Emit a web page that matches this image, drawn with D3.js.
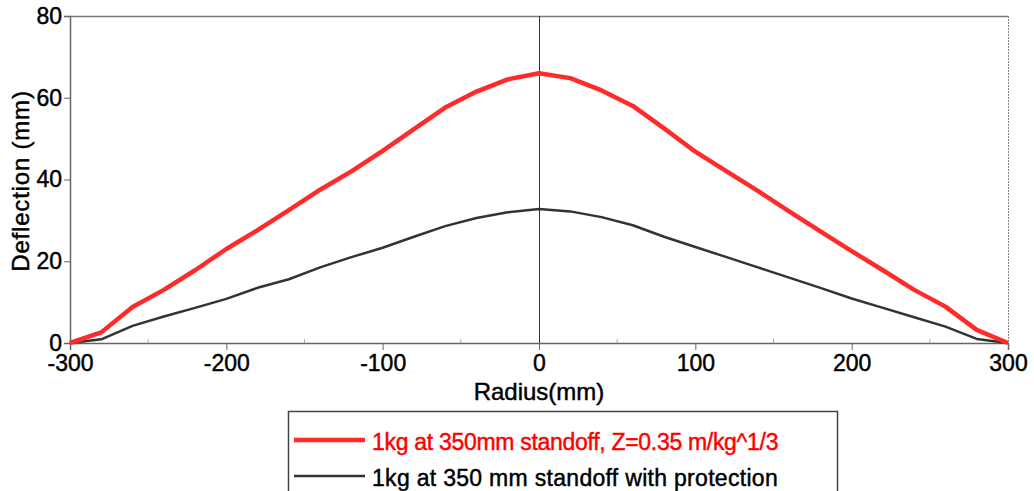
<!DOCTYPE html>
<html>
<head>
<meta charset="utf-8">
<script src="https://cdn.jsdelivr.net/npm/d3@7"></script>
<style>
  body { margin: 0; background: #fff; }
  text { font-family: "Liberation Sans", Arial, sans-serif; }
</style>
</head>
<body>
<svg id="chart" width="1034" height="491"></svg>
<script>
// radius positions (mm)
const radius = [-300, -280, -260, -240, -220, -200, -180, -160, -140, -120, -100, -80, -60, -40, -20, 0,
  20, 40, 60, 80, 100, 120, 140, 160, 180, 200, 220, 240, 260, 280, 300];

// deflection without protection (mm)
const noProtection = [0, 2.6, 8.8, 13, 17.8, 23, 27.6, 32.5, 37.5, 42, 47, 52.3, 57.6, 61.5, 64.5, 66,
  64.8, 61.8, 58, 52.5, 46.8, 42, 37.2, 32.2, 27.3, 22.5, 17.8, 13, 8.9, 3.2, 0];

// deflection with protection (mm)
const withProtection = [0, 0.9, 4.2, 6.5, 8.6, 10.8, 13.5, 15.6, 18.5, 21, 23.3, 26, 28.6, 30.6, 32, 32.8,
  32.2, 30.8, 28.8, 26, 23.5, 21, 18.5, 16, 13.5, 10.9, 8.6, 6.3, 4, 1, 0];

const xTicks = [-300, -200, -100, 0, 100, 200, 300];
const xMinorTicks = [-250, -150, -50, 50, 150, 250];
const yTicks = [0, 20, 40, 60, 80];

const seriesNames = ["1kg at 350mm standoff, Z=0.35 m/kg^1/3", "1kg at 350 mm standoff with protection"];
const seriesColors = ["#ff2b2b", "#333333"];

const svg = d3.select("#chart");
const mLeft = 70, mRight = 1008, mTop = 16, mBottom = 343;

const x = d3.scaleLinear().domain([-300, 300]).range([mLeft, mRight]);
const y = d3.scaleLinear().domain([0, 80]).range([mBottom, mTop]);

// frame: top solid, right dashed
svg.append("line")
  .attr("x1", mLeft).attr("x2", mRight).attr("y1", mTop + 0.5).attr("y2", mTop + 0.5)
  .attr("stroke", "#777").attr("stroke-width", 1.5);
svg.append("line")
  .attr("x1", mRight + 0.5).attr("x2", mRight + 0.5).attr("y1", mTop).attr("y2", mBottom)
  .attr("stroke", "#888").attr("stroke-width", 1).attr("stroke-dasharray", "2,1");

// zero line at radius 0
svg.append("line")
  .attr("x1", x(0) + 0.5).attr("x2", x(0) + 0.5).attr("y1", mTop).attr("y2", mBottom)
  .attr("stroke", "#333").attr("stroke-width", 1);

// shared text look: a little heavier than plain regular
const heavy = sel => sel.attr("stroke", "currentColor").attr("stroke-width", 0.45);

// x axis
const xAxis = svg.append("g")
  .attr("transform", `translate(0,${mBottom})`)
  .call(d3.axisBottom(x).tickValues(xTicks).tickSize(7).tickPadding(5).tickFormat(d => d));
xAxis.select(".domain").attr("stroke", "#666").attr("stroke-width", 1.5);
xAxis.selectAll(".tick line").attr("stroke", "#666");
xAxis.selectAll(".tick text")
  .attr("font-size", 23).attr("fill", "#000").style("color", "#000")
  .call(heavy);

// minor ticks pointing inward
svg.append("g").selectAll("line")
  .data(xMinorTicks)
  .enter()
  .append("line")
  .attr("x1", d => x(d)).attr("x2", d => x(d))
  .attr("y1", mBottom).attr("y2", mBottom - 4)
  .attr("stroke", "#aaa");

// y axis
const yAxis = svg.append("g")
  .attr("transform", `translate(${mLeft},0)`)
  .call(d3.axisLeft(y).tickValues(yTicks).tickSize(6).tickPadding(2));
yAxis.select(".domain").attr("stroke", "#666").attr("stroke-width", 1.5);
yAxis.selectAll(".tick line").attr("stroke", "#666");
yAxis.selectAll(".tick text")
  .attr("font-size", 23).attr("fill", "#000").style("color", "#000")
  .call(heavy);

// axis titles
svg.append("text")
  .attr("x", x(0)).attr("y", 400)
  .attr("text-anchor", "middle")
  .attr("font-size", 24)
  .style("color", "#000")
  .call(heavy)
  .text("Radius(mm)");

svg.append("text")
  .attr("transform", `translate(29,181) rotate(-90)`)
  .attr("text-anchor", "middle")
  .attr("font-size", 24)
  .attr("letter-spacing", 0.8)
  .style("color", "#000")
  .call(heavy)
  .text("Deflection (mm)");

// lines
const line = d3.line()
  .x((d, i) => x(radius[i]))
  .y(d => y(d));

svg.append("path")
  .datum(withProtection)
  .attr("fill", "none")
  .attr("stroke", seriesColors[1])
  .attr("stroke-width", 2.5)
  .attr("stroke-linejoin", "round")
  .attr("d", line);

svg.append("path")
  .datum(noProtection)
  .attr("fill", "none")
  .attr("stroke", seriesColors[0])
  .attr("stroke-width", 4.5)
  .attr("stroke-linejoin", "round")
  .attr("d", line);

// legend
const legend = svg.append("g");
legend.append("rect")
  .attr("x", 288.5).attr("y", 411.5)
  .attr("width", 549).attr("height", 100)
  .attr("fill", "#fff").attr("stroke", "#444").attr("stroke-width", 1.5);

const legendRows = legend.selectAll(".row")
  .data(seriesNames)
  .enter()
  .append("g")
  .attr("class", "row")
  .attr("transform", (d, i) => `translate(0,${i === 0 ? 440 : 476})`);

legendRows.append("line")
  .attr("x1", 294).attr("x2", 365)
  .attr("stroke", (d, i) => seriesColors[i])
  .attr("stroke-width", (d, i) => i === 0 ? 4.5 : 2.5);

legendRows.append("text")
  .attr("x", 372).attr("y", 3)
  .attr("dy", "0.32em")
  .attr("font-size", 23)
  .attr("letter-spacing", (d, i) => i === 0 ? -0.3 : 0.3)
  .attr("fill", (d, i) => i === 0 ? "#ff0000" : "#000")
  .style("color", (d, i) => i === 0 ? "#ff0000" : "#000")
  .call(heavy)
  .text(d => d);
</script>
</body>
</html>
